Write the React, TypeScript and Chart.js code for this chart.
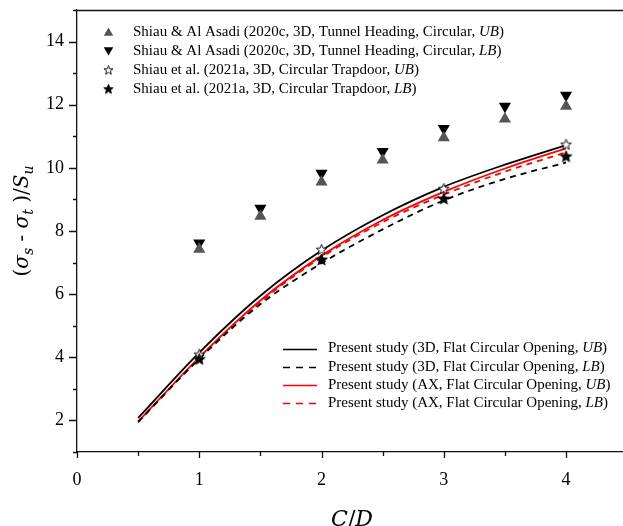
import React, { useEffect, useRef } from 'react';
import { Chart, registerables } from 'chart.js';

Chart.register(...registerables);

// ---- data ----
const curveCD = [0.5, 1, 1.5, 2, 2.5, 3, 3.5, 4];
const present3DUB = [2.08, 4.15, 5.95, 7.38, 8.5, 9.4, 10.1, 10.72];
const present3DLB = [1.96, 3.95, 5.68, 6.98, 8.05, 8.97, 9.65, 10.17];
const presentAXUB = [1.96, 4.0, 5.8, 7.22, 8.35, 9.24, 9.98, 10.62];
const presentAXLB = [1.94, 3.97, 5.75, 7.17, 8.28, 9.15, 9.88, 10.49];

const headingCD = [1, 1.5, 2, 2.5, 3, 3.5, 4];
const headingUB = [7.42, 8.47, 9.55, 10.25, 10.95, 11.55, 11.95];
const headingLB = [7.62, 8.72, 9.83, 10.52, 11.25, 11.95, 12.3];

const trapdoorCD = [1, 2, 3, 4];
const trapdoorUB = [4.1, 7.42, 9.35, 10.75];
const trapdoorLB = [3.95, 7.1, 9.03, 10.37];

const xTickValues = [0, 0.5, 1, 1.5, 2, 2.5, 3, 3.5, 4];
const yTickValues = [1, 2, 3, 4, 5, 6, 7, 8, 9, 10, 11, 12, 13, 14, 15];

const markerLabels = [
  'Shiau & Al Asadi (2020c, 3D, Tunnel Heading, Circular, UB)',
  'Shiau & Al Asadi (2020c, 3D, Tunnel Heading, Circular, LB)',
  'Shiau et al. (2021a, 3D, Circular Trapdoor, UB)',
  'Shiau et al. (2021a, 3D, Circular Trapdoor, LB)',
];
const lineLabels = [
  'Present study (3D, Flat Circular Opening, UB)',
  'Present study (3D, Flat Circular Opening, LB)',
  'Present study (AX, Flat Circular Opening, UB)',
  'Present study (AX, Flat Circular Opening, LB)',
];

const xMin = 0;
const xMax = 4.466;
const yMin = 1;
const yMax = 15;

const SERIF = "'Liberation Serif', 'Times New Roman', serif";
const MATH = "'DejaVu Serif', 'Liberation Serif', serif";

const pts = (xs: number[], ys: number[]) => xs.map((x, i) => ({ x, y: ys[i] }));

function makeStar(size: number, outer: number, inner: number, fill: string, stroke: string, lw: number) {
  const c = document.createElement('canvas');
  c.width = size;
  c.height = size;
  const g = c.getContext('2d')!;
  g.beginPath();
  for (let i = 0; i < 10; i++) {
    const r = i % 2 ? inner : outer;
    const a = -Math.PI / 2 + (i * Math.PI) / 5;
    const px = size / 2 + r * Math.cos(a);
    const py = size / 2 + 0.6 + r * Math.sin(a);
    if (i) g.lineTo(px, py);
    else g.moveTo(px, py);
  }
  g.closePath();
  g.fillStyle = fill;
  g.fill();
  g.lineWidth = lw;
  g.strokeStyle = stroke;
  g.stroke();
  return c;
}

function drawRich(ctx: CanvasRenderingContext2D, x: number, y: number, label: string, size: number) {
  const m = label.match(/^(.*, )(UB|LB)(\))$/);
  const parts = m
    ? [
        { t: m[1], f: `${size}px ${SERIF}` },
        { t: m[2], f: `italic ${size}px ${SERIF}` },
        { t: m[3], f: `${size}px ${SERIF}` },
      ]
    : [{ t: label, f: `${size}px ${SERIF}` }];
  let cx = x;
  for (const p of parts) {
    ctx.font = p.f;
    ctx.fillText(p.t, cx, y);
    cx += ctx.measureText(p.t).width;
  }
}

export default function App() {
  const ref = useRef<HTMLCanvasElement | null>(null);

  useEffect(() => {
    const canvas = ref.current;
    if (!canvas) return;

    const starOpen = makeStar(15, 5.6, 2.4, '#ffffff', '#000000', 0.9);
    const starFull = makeStar(15, 6.2, 2.7, '#000000', '#000000', 0.8);
    const starOpenL = makeStar(13, 4.8, 2.0, '#ffffff', '#000000', 0.9);
    const starFullL = makeStar(13, 5.0, 2.2, '#000000', '#000000', 0.8);

    const decor = {
      id: 'decor',
      afterDraw(chart: any) {
        const { ctx, chartArea, scales } = chart;
        const xs = scales.x;
        const ys = scales.y;
        ctx.save();
        ctx.strokeStyle = '#111';
        ctx.lineWidth = 1.3;
        // top frame line
        ctx.beginPath();
        ctx.moveTo(chartArea.left, chartArea.top + 0.5);
        ctx.lineTo(chartArea.right, chartArea.top + 0.5);
        ctx.stroke();
        // ticks (outside)
        ctx.beginPath();
        for (const t of xs.ticks) {
          const px = Math.round(xs.getPixelForValue(t.value)) + 0.5;
          const len = Math.abs(t.value - Math.round(t.value)) < 1e-6 ? 6 : 4;
          ctx.moveTo(px, chartArea.bottom);
          ctx.lineTo(px, chartArea.bottom + len);
        }
        for (const t of ys.ticks) {
          const py = Math.round(ys.getPixelForValue(t.value)) + 0.5;
          const len = Math.round(t.value) % 2 === 0 ? 8 : 4;
          ctx.moveTo(chartArea.left, py);
          ctx.lineTo(chartArea.left - len, py);
        }
        ctx.stroke();

        // axis titles
        ctx.fillStyle = '#000';
        ctx.textBaseline = 'alphabetic';
        // x title C/D
        {
          const parts = [
            { t: 'C', f: `italic 22px ${MATH}` },
            { t: '/', f: `22px ${MATH}` },
            { t: 'D', f: `italic 22px ${MATH}` },
          ];
          let w = 0;
          for (const p of parts) {
            ctx.font = p.f;
            w += ctx.measureText(p.t).width;
          }
          let cx = 352 - w / 2;
          for (const p of parts) {
            ctx.font = p.f;
            ctx.fillText(p.t, cx, 526);
            cx += ctx.measureText(p.t).width;
          }
        }
        // y title (σs - σt )/Su
        {
          const big = 20;
          const sub = 14;
          const parts = [
            { t: '(', f: `${big}px ${MATH}`, dy: 0 },
            { t: 'σ', f: `italic ${big}px ${MATH}`, dy: 0 },
            { t: 's', f: `italic ${sub}px ${MATH}`, dy: 5 },
            { t: ' - ', f: `${big}px ${MATH}`, dy: 0 },
            { t: 'σ', f: `italic ${big}px ${MATH}`, dy: 0 },
            { t: 't', f: `italic ${sub}px ${MATH}`, dy: 5 },
            { t: ' )/', f: `${big}px ${MATH}`, dy: 0 },
            { t: 'S', f: `italic ${big}px ${MATH}`, dy: 0 },
            { t: 'u', f: `italic ${sub}px ${MATH}`, dy: 5 },
          ];
          let w = 0;
          for (const p of parts) {
            ctx.font = p.f;
            w += ctx.measureText(p.t).width;
          }
          ctx.translate(28, 221);
          ctx.rotate(-Math.PI / 2);
          let cx = -w / 2;
          for (const p of parts) {
            ctx.font = p.f;
            ctx.fillText(p.t, cx, p.dy);
            cx += ctx.measureText(p.t).width;
          }
          ctx.setTransform(1, 0, 0, 1, 0, 0);
        }

        // legend 1 (markers)
        ctx.textBaseline = 'middle';
        const l1x = 108.5;
        const l1t = 133;
        const l1y = 32;
        const l1s = 18.9;
        markerLabels.forEach((lab, i) => {
          const y = l1y + i * l1s;
          if (i < 2) {
            const r = 5.5;
            const rot = i === 0 ? 0 : Math.PI;
            ctx.fillStyle = i === 0 ? '#555555' : '#000000';
            ctx.beginPath();
            for (let k = 0; k < 3; k++) {
              const a = rot + (k * 2 * Math.PI) / 3;
              const px = l1x + Math.sin(a) * r;
              const py = y + (i === 0 ? 1 : -1) - Math.cos(a) * r;
              if (k) ctx.lineTo(px, py);
              else ctx.moveTo(px, py);
            }
            ctx.closePath();
            ctx.fill();
          } else {
            const img = i === 2 ? starOpenL : starFullL;
            ctx.drawImage(img, l1x - img.width / 2, y - img.height / 2);
          }
          ctx.fillStyle = '#000';
          drawRich(ctx, l1t, y, lab, 15);
        });

        // legend 2 (lines)
        const l2x0 = 283;
        const l2x1 = 317;
        const l2t = 328;
        const l2y = 348.5;
        const l2s = 18.1;
        lineLabels.forEach((lab, i) => {
          const y = Math.round(l2y + i * l2s) + 0.5;
          ctx.strokeStyle = i < 2 ? '#000000' : '#ff0000';
          ctx.lineWidth = 1.6;
          ctx.setLineDash(i % 2 === 1 ? [7, 6] : []);
          ctx.beginPath();
          ctx.moveTo(l2x0, y);
          ctx.lineTo(l2x1, y);
          ctx.stroke();
          ctx.setLineDash([]);
          ctx.fillStyle = '#000';
          drawRich(ctx, l2t, l2y + i * l2s, lab, 15);
        });
        ctx.restore();
      },
    };

    const lineDs = (label: string, ys: number[], color: string, dashed: boolean) => ({
      type: 'line' as const,
      label,
      data: pts(curveCD, ys),
      borderColor: color,
      backgroundColor: color,
      borderWidth: 1.8,
      borderDash: dashed ? [6, 5] : [],
      pointRadius: 0,
      fill: false,
      cubicInterpolationMode: 'monotone' as const,
      order: 2,
    });

    const chart = new Chart(canvas, {
      type: 'line',
      data: {
        datasets: [
          lineDs(lineLabels[1], present3DLB, '#000000', true),
          lineDs(lineLabels[3], presentAXLB, '#ff0000', true),
          lineDs(lineLabels[2], presentAXUB, '#ff0000', false),
          lineDs(lineLabels[0], present3DUB, '#000000', false),
          {
            type: 'scatter',
            label: markerLabels[0],
            data: pts(headingCD, headingUB),
            pointStyle: 'triangle',
            pointRadius: 7,
            pointBackgroundColor: '#555555',
            pointBorderColor: '#555555',
            pointBorderWidth: 0,
            showLine: false,
            order: 1,
          } as any,
          {
            type: 'scatter',
            label: markerLabels[1],
            data: pts(headingCD, headingLB),
            pointStyle: 'triangle',
            rotation: 180,
            pointRotation: 180,
            pointRadius: 7,
            pointBackgroundColor: '#000000',
            pointBorderColor: '#000000',
            pointBorderWidth: 0,
            showLine: false,
            order: 1,
          } as any,
          {
            type: 'scatter',
            label: markerLabels[3],
            data: pts(trapdoorCD, trapdoorLB),
            pointStyle: starFull,
            pointRadius: 6,
            showLine: false,
            order: 0,
          } as any,
          {
            type: 'scatter',
            label: markerLabels[2],
            data: pts(trapdoorCD, trapdoorUB),
            pointStyle: starOpen,
            pointRadius: 6,
            showLine: false,
            order: 0,
          } as any,
        ],
      },
      options: {
        responsive: false,
        animation: false,
        events: [],
        layout: { padding: { top: 10, right: 0, left: 0, bottom: 0 } },
        plugins: {
          legend: { display: false },
          tooltip: { enabled: false },
          title: { display: false },
        },
        scales: {
          x: {
            type: 'linear',
            min: xMin,
            max: xMax,
            afterBuildTicks: (scale: any) => {
              scale.ticks = xTickValues.map((value) => ({ value }));
            },
            afterFit: (scale: any) => {
              scale.height = 74;
              scale.paddingLeft = 0;
              scale.paddingRight = 0;
            },
            ticks: {
              autoSkip: false,
              maxRotation: 0,
              padding: 17,
              color: '#000',
              font: { family: SERIF, size: 18 },
              callback: (v: any) => (Math.abs(v - Math.round(v)) < 1e-6 ? String(Math.round(v)) : ''),
            },
            grid: { display: false, drawTicks: false },
            border: { display: true, color: '#111', width: 1.3 },
          },
          y: {
            type: 'linear',
            min: yMin,
            max: yMax,
            afterBuildTicks: (scale: any) => {
              scale.ticks = yTickValues.map((value) => ({ value }));
            },
            afterFit: (scale: any) => {
              scale.width = 77;
              scale.paddingTop = 0;
              scale.paddingBottom = 0;
            },
            ticks: {
              autoSkip: false,
              padding: 13,
              color: '#000',
              font: { family: SERIF, size: 18 },
              callback: (v: any) => (Math.round(v) % 2 === 0 ? String(Math.round(v)) : ''),
            },
            grid: { display: false, drawTicks: false },
            border: { display: true, color: '#111', width: 1.3 },
          },
        },
      },
      plugins: [decor],
    } as any);

    return () => chart.destroy();
  }, []);

  return (
    <div
      style={{
        position: 'absolute',
        left: 0,
        top: 0,
        width: 623,
        height: 526,
        overflow: 'hidden',
        background: '#fff',
      }}
    >
      <canvas ref={ref} width={630} height={526} style={{ display: 'block' }} />
    </div>
  );
}
